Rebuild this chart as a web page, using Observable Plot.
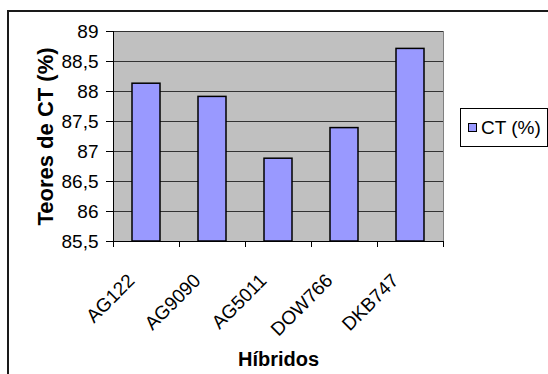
<!DOCTYPE html>
<html>
<head>
<meta charset="utf-8">
<script src="https://cdn.jsdelivr.net/npm/d3@7"></script>
<script src="https://cdn.jsdelivr.net/npm/@observablehq/plot@0.6"></script>
<style>
  html, body { margin: 0; padding: 0; background: #fff; }
  #wrap { position: relative; width: 548px; height: 374px; overflow: hidden; font-family: Arial, "Liberation Sans", sans-serif; }
  #chart svg text { font-size: 19px; }
  #border { position: absolute; left: 7px; top: 10px; width: 600px; height: 500px; border: 2px solid #1a1a1a; pointer-events: none; }
  #legend { position: absolute; left: 460px; top: 108px; width: 88px; height: 39px; border: 1px solid #000; background: #fff; display: flex; align-items: center; box-sizing: border-box; font-size: 19px; color: #000; }
  #legend .sw { width: 9px; height: 9px; background: #9999ff; border: 1px solid #000; margin-left: 7px; margin-right: 4px; box-sizing: border-box; }
</style>
</head>
<body>
<div id="wrap">
  <div id="chart"></div>
  <div id="border"></div>
  <div id="legend"><span class="sw"></span><span>CT (%)</span></div>
</div>
<script>
const hibridos = ["AG122", "AG9090", "AG5011", "DOW766", "DKB747"];
const teores = [88.13, 87.91, 86.88, 87.39, 88.71];
const yTicks = [85.5, 86, 86.5, 87, 87.5, 88, 88.5, 89];
const yTitle = "Teores de CT (%)";
const xTitle = "Híbridos";

const data = hibridos.map((h, i) => ({h, v: teores[i]}));
const fmt = d => String(d).replace(".", ",");

const chart = Plot.plot({
  width: 548,
  height: 374,
  marginLeft: 113,
  marginRight: 105,
  marginTop: 31,
  marginBottom: 133,
  style: {fontFamily: 'Arial, "Liberation Sans", sans-serif', fontSize: "19px", background: "#fff", color: "#000"},
  x: {domain: hibridos, padding: 0},
  y: {domain: [85.5, 89]},
  marks: [
    Plot.frame({fill: "#c0c0c0", stroke: "#808080"}),
    Plot.gridY(yTicks, {stroke: "#333", strokeOpacity: 1, strokeWidth: 1}),
    Plot.barY(data, {x: "h", y1: 85.5, y2: "v", fill: "#9999ff", stroke: "#000", strokeWidth: 1.5, insetLeft: 19, insetRight: 19}),
    Plot.ruleY([85.5], {stroke: "#000"}),
    Plot.frame({anchor: "left", stroke: "#000"}),
    Plot.axisY({ticks: yTicks, tickFormat: fmt, tickSize: 7, tickPadding: 8, label: yTitle, labelAnchor: "center", labelArrow: "none", labelOffset: 76}),
    Plot.axisX({tickSize: 6, tickFormat: null, dx: -33, label: null}),
    Plot.axisX({ticks: [hibridos[hibridos.length - 1]], tickSize: 6, tickFormat: null, dx: 33, label: null}),
    Plot.axisX({tickSize: 0, tickRotate: -45, tickPadding: 36, dx: -15, label: null}),
    Plot.axisX({tickSize: 0, tickFormat: null, label: xTitle, labelAnchor: "center", labelArrow: "none", labelOffset: 124})
  ]
});
document.getElementById("chart").appendChild(chart);
d3.select(chart).selectAll("[aria-label='y-axis label'] text").style("font-weight", "bold").style("font-size", "22px");
d3.select(chart).selectAll("[aria-label='x-axis label'] text").style("font-weight", "bold").style("font-size", "20px");
</script>
</body>
</html>
